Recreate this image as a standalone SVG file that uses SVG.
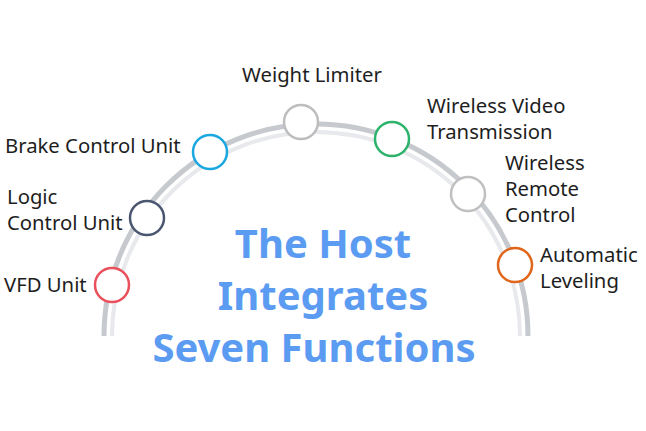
<svg xmlns="http://www.w3.org/2000/svg" width="646" height="431" viewBox="0 0 646 431">
<style>
.lbl{font-family:"Noto Sans","Open Sans",sans-serif;font-size:20.3px;fill:#1e1e1e}
.title{font-family:"Noto Sans","Open Sans",sans-serif;font-size:40px;font-weight:bold;fill:#5b9cf2;text-anchor:middle}
.node{fill:#fff;stroke-width:2.5}
</style>
<rect width="646" height="431" fill="#fff"/>
<g id="arc">
<path d="M104 336 A212 212 0 0 1 528 336" fill="none" stroke="#c6c9ce" stroke-width="5"/>
<path d="M112 336 A204 204 0 0 1 520 336" fill="none" stroke="#e8e9ec" stroke-width="4"/>
</g>
<g id="connectors"></g>
<g id="vfd"><circle class="node" cx="112" cy="285" r="17" stroke="#e9505c"/><text class="lbl" x="4" y="292">VFD Unit</text></g>
<g id="logic"><circle class="node" cx="147" cy="218" r="17" stroke="#4b5670"/><text class="lbl" x="7" y="204">Logic</text><text class="lbl" x="7" y="230">Control Unit</text></g>
<g id="brake"><circle class="node" cx="210" cy="152" r="17" stroke="#1ba8e0"/><text class="lbl" x="5" y="153">Brake Control Unit</text></g>
<g id="weight"><circle class="node" cx="301" cy="122" r="17" stroke="#bdbdbd"/><text class="lbl" x="242" y="82">Weight Limiter</text></g>
<g id="video"><circle class="node" cx="392" cy="139" r="17" stroke="#2db36b"/><text class="lbl" x="427" y="113">Wireless Video</text><text class="lbl" x="427" y="139">Transmission</text></g>
<g id="remote"><circle class="node" cx="468" cy="194" r="17" stroke="#c0c0c0"/><text class="lbl" x="505" y="170">Wireless</text><text class="lbl" x="505" y="196">Remote</text><text class="lbl" x="505" y="222">Control</text></g>
<g id="auto"><circle class="node" cx="515" cy="265" r="17" stroke="#e0661b"/><text class="lbl" x="540" y="262">Automatic</text><text class="lbl" x="540" y="288">Leveling</text></g>
<g id="title"><text class="title" x="323" y="258">The Host</text><text class="title" x="323" y="310">Integrates</text><text class="title" x="314" y="362">Seven Functions</text></g>
</svg>
